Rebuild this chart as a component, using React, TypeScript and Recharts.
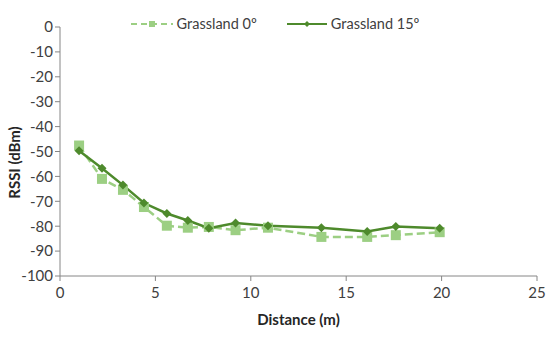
import React from 'react';
import { LineChart, Line, XAxis, YAxis, Legend, Label } from 'recharts';

const distances = [1.0, 2.2, 3.3, 4.4, 5.6, 6.7, 7.8, 9.2, 10.9, 13.7, 16.1, 17.6, 19.9];
const grassland0 = [-47.6, -61, -65.4, -72.3, -79.8, -80.6, -80.3, -81.6, -80.6, -84.3, -84.3, -83.6, -82.4];
const grassland15 = [-49.7, -56.7, -63.5, -70.7, -74.9, -77.7, -80.8, -78.7, -79.8, -80.6, -82.1, -80.1, -80.8];
const xTicks = [0, 5, 10, 15, 20, 25];
const yTicks = [0, -10, -20, -30, -40, -50, -60, -70, -80, -90, -100];

const LIGHT = '#9ccf83';
const DARK = '#4e8a2c';
const AXIS = '#868686';
const FONT = 'Lato, "Open Sans", sans-serif';

const data = distances.map((d, i) => ({ d, g0: grassland0[i], g15: grassland15[i] }));

const SquareDot = (props: any) => {
  const { cx, cy } = props;
  if (cx == null || cy == null) return null;
  return <rect x={cx - 5} y={cy - 5} width={10} height={10} fill={LIGHT} />;
};

const DiamondDot = (props: any) => {
  const { cx, cy } = props;
  if (cx == null || cy == null) return null;
  const r = 4.5;
  return <polygon points={`${cx},${cy - r} ${cx + r},${cy} ${cx},${cy + r} ${cx - r},${cy}`} fill={DARK} />;
};

const LegendContent = () => (
  <div style={{ display: 'flex', justifyContent: 'center', gap: 30, fontFamily: FONT, fontSize: 14.5, color: '#404040' }}>
    <div style={{ display: 'flex', alignItems: 'center' }}>
      <svg width={42} height={12} style={{ marginRight: 4 }}>
        <line x1={0} y1={6} x2={42} y2={6} stroke={LIGHT} strokeWidth={2} strokeDasharray="6 4" />
        <rect x={18} y={3} width={6} height={6} fill={LIGHT} />
      </svg>
      <span>Grassland 0º</span>
    </div>
    <div style={{ display: 'flex', alignItems: 'center' }}>
      <svg width={40} height={12} style={{ marginRight: 4 }}>
        <line x1={0} y1={6} x2={40} y2={6} stroke={DARK} strokeWidth={2} />
        <polygon points="20,3 23,6 20,9 17,6" fill={DARK} />
      </svg>
      <span>Grassland 15º</span>
    </div>
  </div>
);

export default function App() {
  return (
    <div style={{ position: 'absolute', left: 0, top: 0, width: 550, height: 337, background: '#fff' }}>
      <LineChart width={550} height={337} data={data} margin={{ top: 10, right: 13, left: 0, bottom: 0 }}>
        <XAxis
          dataKey="d"
          type="number"
          domain={[0, 25]}
          ticks={xTicks}
          height={61}
          stroke={AXIS}
          tickSize={5}
          tickMargin={6}
          tick={{ fill: '#404040', fontSize: 15, fontFamily: FONT }}
        >
          <Label value="Distance (m)" position="insideBottom" offset={12} fill="#262626" fontWeight="bold" fontSize={15} fontFamily={FONT} />
        </XAxis>
        <YAxis
          type="number"
          domain={[-100, 0]}
          ticks={yTicks}
          width={60}
          stroke={AXIS}
          tickSize={5}
          tickMargin={2}
          tick={{ fill: '#404040', fontSize: 15, fontFamily: FONT }}
        >
          <Label value="RSSI (dBm)" angle={-90} position="center" dx={-15} dy={11} fill="#262626" fontWeight="bold" fontSize={15} fontFamily={FONT} />
        </YAxis>
        <Legend verticalAlign="top" content={<LegendContent />} wrapperStyle={{ top: 15, left: 0, width: 550 }} />
        <Line dataKey="g0" stroke={LIGHT} strokeWidth={2.5} strokeDasharray="8 4" dot={<SquareDot />} isAnimationActive={false} />
        <Line dataKey="g15" stroke={DARK} strokeWidth={2.5} dot={<DiamondDot />} isAnimationActive={false} />
      </LineChart>
    </div>
  );
}
